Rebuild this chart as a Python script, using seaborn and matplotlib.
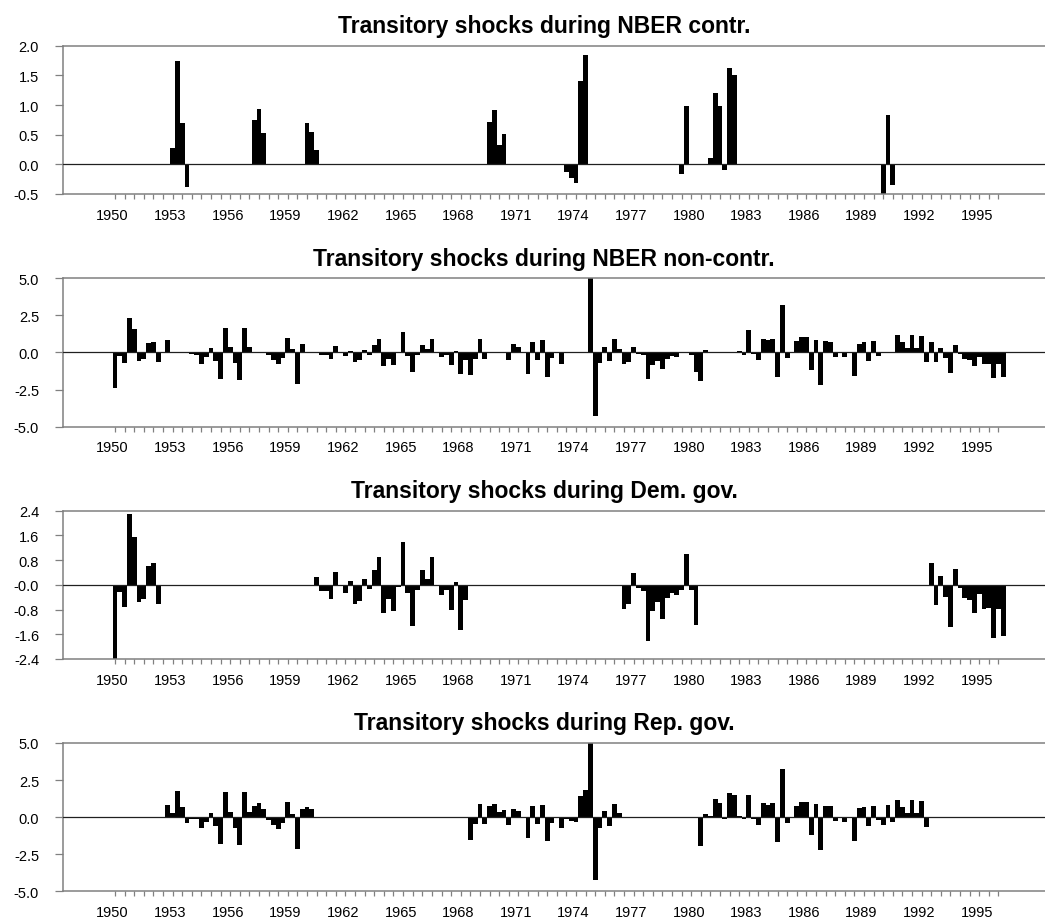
import matplotlib
matplotlib.use('Agg')
import matplotlib.pyplot as plt
import seaborn as sns
import pandas as pd
import numpy as np

sns.set_style('white')
plt.rcParams['font.family'] = ['Liberation Sans', 'DejaVu Sans']
plt.rcParams['text.color'] = 'black'
plt.rcParams['xtick.labelcolor'] = 'black'
plt.rcParams['ytick.labelcolor'] = 'black'

# quarterly transitory shocks, quarter 0 sits on the 1950 label
shocks = [
    -2.42, -0.22, -0.72, 2.29, 1.55, -0.55, -0.45, 0.62, 0.72, -0.62,
    -0.03, 0.82, 0.28, 1.75, 0.70, -0.38, -0.10, -0.15, -0.76, -0.30,
    0.27, -0.58, -1.80, 1.68, 0.34, -0.74, -1.86, 1.68, 0.36, 0.75,
    0.93, 0.52, -0.18, -0.50, -0.80, -0.40, 1.00, 0.20, -2.13, 0.56,
    0.69, 0.55, 0.25, -0.19, -0.20, -0.46, 0.43, -0.03, -0.26, 0.12,
    -0.62, -0.52, 0.19, -0.15, 0.48, 0.90, -0.90, -0.46, -0.84, -0.06,
    1.38, -0.26, -1.33, -0.17, 0.47, 0.20, 0.90, -0.03, -0.32, -0.16,
    -0.82, 0.08, -1.45, -0.49, -1.55, -0.45, 0.89, -0.45, 0.72, 0.92,
    0.32, 0.51, -0.50, 0.58, 0.40, -0.05, -1.42, 0.73, -0.48, 0.82,
    -1.63, -0.40, -0.05, -0.76, -0.13, -0.23, -0.32, 1.41, 1.84, 5.20,
    -4.27, -0.72, 0.40, -0.60, 0.92, 0.25, -0.78, -0.63, 0.38, -0.11,
    -0.20, -1.82, -0.84, -0.55, -1.10, -0.44, -0.26, -0.33, -0.16, 0.99,
    -0.17, -1.31, -1.95, 0.18, 0.11, 1.20, 0.98, -0.10, 1.62, 1.50,
    0.11, -0.15, 1.52, -0.12, -0.50, 0.93, 0.82, 0.93, -1.67, 3.22,
    -0.39, 0.02, 0.76, 1.02, 1.02, -1.18, 0.86, -2.21, 0.74, 0.72,
    -0.28, -0.04, -0.32, -0.04, -1.62, 0.59, 0.70, -0.59, 0.76, -0.22,
    -0.52, 0.83, -0.34, 1.18, 0.68, 0.31, 1.17, 0.31, 1.10, -0.66,
    0.72, -0.66, 0.30, -0.40, -1.36, 0.50, -0.11, -0.41, -0.49, -0.92,
    -0.30, -0.79, -0.76, -1.71, -0.77, -1.65,
]

# inclusive quarter spans
contraction_spans = [(12, 15), (29, 31), (40, 42), (78, 81), (94, 98),
                     (118, 119), (124, 129), (160, 162)]
democrat_spans = [(0, 10), (42, 73), (106, 121), (170, 185)]

year_labels = ['1950', '1953', '1956', '1959', '1962', '1965', '1968', '1971',
               '1974', '1977', '1980', '1983', '1986', '1989', '1992', '1995']

df = pd.DataFrame({'quarter': np.arange(len(shocks)), 'shock': shocks})
df['contr'] = False
df['dem'] = False
for a, b in contraction_spans:
    df.loc[a:b, 'contr'] = True
for a, b in democrat_spans:
    df.loc[a:b, 'dem'] = True

panels = [
    ('Transitory shocks during NBER contr.', df[df.contr],
     [2.0, 1.5, 1.0, 0.5, 0.0, -0.5], ['2.0', '1.5', '1.0', '0.5', '0.0', '-0.5']),
    ('Transitory shocks during NBER non-contr.', df[~df.contr],
     [5.0, 2.5, 0.0, -2.5, -5.0], ['5.0', '2.5', '0.0', '-2.5', '-5.0']),
    ('Transitory shocks during Dem. gov.', df[df.dem],
     [2.4, 1.6, 0.8, 0.0, -0.8, -1.6, -2.4],
     ['2.4', '1.6', '0.8', '-0.0', '-0.8', '-1.6', '-2.4']),
    ('Transitory shocks during Rep. gov.', df[~df.dem],
     [5.0, 2.5, 0.0, -2.5, -5.0], ['5.0', '2.5', '0.0', '-2.5', '-5.0']),
]

W, H = 1045, 920
fig = plt.figure(figsize=(W / 100, H / 100), dpi=100)
tops = [46.7, 279.3, 511.7, 744.0]
ax_h = 148.3
left = 62.7
grey = '#808080'

for (title, sub, yt, ytl), top in zip(panels, tops):
    ax = fig.add_axes([left / W, 1 - (top + ax_h) / H, (W - left) / W, ax_h / H])
    sns.barplot(data=sub, x='quarter', y='shock', native_scale=True, color='black',
                width=1.0, errorbar=None, saturation=1, linewidth=0, ax=ax, zorder=2)
    ax.axhline(0, color='#202020', lw=0.9, zorder=3)
    ax.set_xlim(-10.9, 193.7)
    ax.set_ylim(yt[-1], yt[0])
    ax.set_yticks(yt)
    ax.set_yticklabels(ytl)
    ax.set_xticks([12 * k - 0.5 for k in range(len(year_labels))])
    ax.set_xticklabels(year_labels)
    ax.set_xticks(np.arange(0, 185, 2), minor=True)
    ax.tick_params(axis='x', which='major', length=0, pad=10, labelsize=10.5)
    ax.tick_params(axis='x', which='minor', length=3.6, width=0.9, color=grey,
                   direction='out', bottom=True)
    ax.tick_params(axis='y', length=6, width=0.9, color=grey, direction='out',
                   left=True, pad=11, labelsize=10.5)
    ax.set_xlabel('')
    ax.set_ylabel('')
    for s in ['left', 'top', 'bottom']:
        ax.spines[s].set_color(grey)
        ax.spines[s].set_linewidth(1.1)
    ax.spines['right'].set_visible(False)
    ax.text(0.49, 1 + 20 / ax_h, title, transform=ax.transAxes, ha='center',
            va='center', fontsize=16.5, fontweight='bold', color='black')

fig.savefig('out.png', dpi=100)
